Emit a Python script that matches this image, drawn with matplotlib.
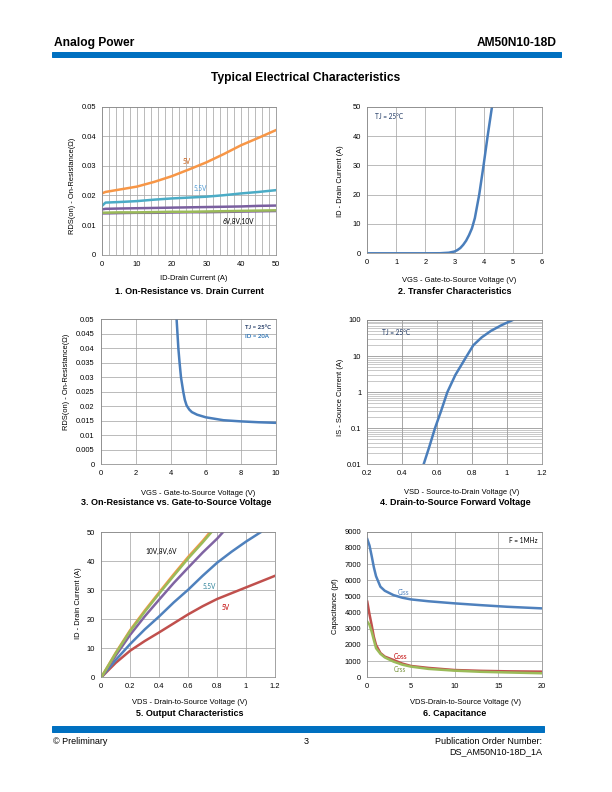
import numpy as np
import matplotlib
matplotlib.use('Agg')
import matplotlib.pyplot as plt
from matplotlib.ticker import MultipleLocator, NullFormatter, LogLocator

plt.rcParams['font.family'] = ['Liberation Sans', 'DejaVu Sans']

# 1. On-Resistance vs. Drain Current
id_current = [0, 1, 5, 10, 15, 20, 25, 30, 35, 40, 45, 50]
rds_5v = [0.0207, 0.0212, 0.022, 0.023, 0.0246, 0.0265, 0.0288, 0.0312, 0.034, 0.037, 0.0395, 0.0421]
rds_5v5 = [0.0165, 0.0176, 0.0178, 0.0181, 0.0186, 0.019, 0.0193, 0.0196, 0.0201, 0.0207, 0.0212, 0.0218]
rds_6v = [0.0153, 0.0155, 0.0156, 0.0157, 0.0158, 0.0159, 0.016, 0.0161, 0.0162, 0.0163, 0.0165, 0.0166]
rds_8v = [0.0142, 0.0142, 0.0143, 0.0143, 0.0144, 0.0145, 0.0145, 0.0146, 0.0147, 0.0148, 0.0149, 0.015]
rds_10v = [0.0138, 0.0138, 0.0139, 0.014, 0.014, 0.0141, 0.0142, 0.0142, 0.0143, 0.0144, 0.0145, 0.0146]

# 2. Transfer Characteristics
vgs_tr = [0, 1, 2, 2.5, 2.8, 3.0, 3.1, 3.2, 3.3, 3.4, 3.5, 3.6, 3.7, 3.85, 4.0, 4.14, 4.29]
id_tr = [0, 0, 0, 0.02, 0.2, 0.6, 1.1, 1.8, 2.9, 4.3, 6.2, 8.5, 12, 20, 30, 40, 50]

# 3. On-Resistance vs. Gate-to-Source Voltage
vgs_rds = [4.33, 4.43, 4.5, 4.58, 4.71, 4.8, 4.9, 5.05, 5.2, 5.5, 6.0, 7.0, 8.0, 9.0, 10.0]
rds_vgs = [0.05, 0.04, 0.035, 0.03, 0.025, 0.0222, 0.0203, 0.0189, 0.018, 0.0171, 0.0162, 0.0152, 0.0148, 0.0145, 0.0143]

# 4. Drain-to-Source Forward Voltage
vsd = [0.523, 0.555, 0.588, 0.623, 0.659, 0.705, 0.77, 0.808, 0.856, 0.909, 0.97, 1.034]
i_s = [0.01, 0.03, 0.1, 0.3, 1, 3, 10, 20, 33, 50, 72, 100]

# 5. Output Characteristics
vds_10v = [0, 0.1, 0.2, 0.3, 0.4, 0.5, 0.6, 0.7, 0.75]
id_10v = [0, 8.5, 16.3, 23, 29.3, 35.5, 41.5, 47, 50]
vds_8v = [0, 0.1, 0.2, 0.3, 0.4, 0.5, 0.6, 0.7, 0.76]
id_8v = [0, 8.3, 16, 22.6, 28.9, 35, 41, 46.5, 50]
vds_6v = [0, 0.1, 0.2, 0.3, 0.4, 0.5, 0.6, 0.7, 0.8, 0.84]
id_6v = [0, 7.5, 14.7, 21, 26.8, 32.5, 37.8, 43, 47.8, 50]
vds_5v5 = [0, 0.1, 0.2, 0.3, 0.4, 0.5, 0.6, 0.7, 0.8, 0.9, 1.0, 1.1]
id_5v5 = [0, 6, 11.5, 16.5, 21, 25.8, 30.2, 35, 39.5, 43.3, 46.8, 50]
vds_5v = [0, 0.1, 0.2, 0.3, 0.4, 0.5, 0.6, 0.7, 0.8, 0.9, 1.0, 1.1, 1.2]
id_5v = [0, 5, 9.2, 12.5, 15.5, 18.6, 21.7, 24.5, 27, 29, 31, 33, 35]

# 6. Capacitance
vds_cap = [0, 0.25, 0.5, 0.75, 1, 1.5, 2, 3, 4, 5, 7, 10, 13, 16, 20]
ciss = [8540, 8150, 7500, 6800, 6250, 5600, 5350, 5080, 4920, 4815, 4700, 4570, 4460, 4360, 4260]
coss = [4670, 3900, 3230, 2500, 2000, 1500, 1280, 1070, 850, 700, 580, 450, 400, 370, 350]
crss = [3440, 3250, 2820, 2300, 1800, 1450, 1230, 970, 780, 660, 520, 410, 340, 300, 250]

W, H = 612, 792
BLUE = '#4A7EBB'
GRID = '#A6A6A6'
NAVY = '#1F3864'

fig = plt.figure(figsize=(W / 72, H / 72), dpi=72)


def fx(x):
    return x / W


def fy(y):
    return 1 - y / H


def make_axes(l, t, r, b):
    ax = fig.add_axes([fx(l), fy(b), (r - l) / W, (b - t) / H])
    for s in ax.spines.values():
        s.set_color('#868686')
        s.set_linewidth(0.75)
    ax.tick_params(which='both', length=0, labelsize=7.5, pad=6, colors='black')
    ax.set_axisbelow(True)
    return ax


def ptext(x, y, s, **kw):
    fig.text(fx(x), fy(y), s, **kw)


def note(ax, x, y, s, color='black', size=6.5, ha='left', weight='normal'):
    ax.text(x, y, s, color=color, fontsize=size, ha=ha, va='center',
            family=['Lato', 'DejaVu Sans'], weight=weight)


# header / footer
ptext(54, 43, 'Analog Power', fontsize=12, weight='bold', va='center')
ptext(557, 43, 'AM50N10-18D', fontsize=12, weight='bold', va='center', ha='right')
fig.patches.append(plt.Rectangle((fx(52), fy(56.5)), (561 - 52) / W, 4.5 / H,
                                 transform=fig.transFigure, color='#0070C0'))
ptext(306, 78, 'Typical Electrical Characteristics', fontsize=12, weight='bold',
      va='center', ha='center')
fig.patches.append(plt.Rectangle((fx(52), fy(731.5)), (544 - 52) / W, 5.5 / H,
                                 transform=fig.transFigure, color='#0070C0'))
ptext(53, 741, '© Preliminary', fontsize=9, va='center')
ptext(306, 741, '3', fontsize=9, va='center', ha='center')
ptext(542, 741, 'Publication Order Number:', fontsize=9, va='center', ha='right')
ptext(542, 752, 'DS_AM50N10-18D_1A', fontsize=9, va='center', ha='right')

# ---- chart 1
ax1 = make_axes(102, 106.7, 276, 254.7)
ax1.plot(id_current, rds_10v, color='#8064A2', lw=1.6)
ax1.plot(id_current, rds_8v, color='#9BBB59', lw=2.5)
ax1.plot(id_current, rds_6v, color='#7A5FA0', lw=2.5)
ax1.plot(id_current, rds_5v5, color='#4BACC6', lw=2.5)
ax1.plot(id_current, rds_5v, color='#F79646', lw=2.5)
ax1.set_xlim(0, 50)
ax1.set_ylim(0, 0.05)
ax1.set_xticks(range(0, 51, 10))
ax1.xaxis.set_minor_locator(MultipleLocator(2))
ax1.set_yticks([0, 0.01, 0.02, 0.03, 0.04, 0.05])
ax1.set_yticklabels(['0', '0.01', '0.02', '0.03', '0.04', '0.05'])
ax1.grid(True, which='both', axis='x', color=GRID, lw=0.75)
ax1.grid(True, which='major', axis='y', color=GRID, lw=0.75)
note(ax1, 23.2, 0.0314, '5V', color='#C55A11')
note(ax1, 26.2, 0.0222, '5.5V', color='#4F9BD5')
note(ax1, 34.8, 0.0111, '6V,8V,10V')
ptext(194, 279, 'ID-Drain Current (A)', fontsize=7.5, ha='center', va='center')
ptext(189, 291, '1. On-Resistance vs. Drain Current', fontsize=9, weight='bold',
      ha='center', va='center')
ptext(72.7, 186, 'RDS(on) - On-Resistance(Ω)', fontsize=7.5, rotation=90,
      ha='center', va='center')

# ---- chart 2
ax2 = make_axes(367.3, 106.7, 541.7, 253.3)
ax2.plot(vgs_tr, id_tr, color=BLUE, lw=2.5)
ax2.set_xlim(0, 6)
ax2.set_ylim(0, 50)
ax2.set_xticks(range(0, 7))
ax2.set_yticks(range(0, 51, 10))
ax2.grid(True, color=GRID, lw=0.75)
note(ax2, 0.26, 46.8, 'TJ = 25°C', color=NAVY)
ptext(459, 280, 'VGS - Gate-to-Source Voltage (V)', fontsize=7.5, ha='center', va='center')
ptext(455, 291, '2. Transfer Characteristics', fontsize=9, weight='bold',
      ha='center', va='center')
ptext(340.7, 181, 'ID - Drain Current (A)', fontsize=7.5, rotation=90,
      ha='center', va='center')

# ---- chart 3
ax3 = make_axes(100.7, 319.3, 276, 464.3)
ax3.plot(vgs_rds, rds_vgs, color=BLUE, lw=2.5)
ax3.set_xlim(0, 10)
ax3.set_ylim(0, 0.05)
ax3.set_xticks(range(0, 11, 2))
yt3 = [0, 0.005, 0.01, 0.015, 0.02, 0.025, 0.03, 0.035, 0.04, 0.045, 0.05]
ax3.set_yticks(yt3)
ax3.set_yticklabels(['0', '0.005', '0.01', '0.015', '0.02', '0.025', '0.03',
                     '0.035', '0.04', '0.045', '0.05'])
ax3.grid(True, color=GRID, lw=0.75)
note(ax3, 8.23, 0.0473, 'TJ = 25°C', color=NAVY, weight='bold', size=6)
note(ax3, 8.25, 0.0439, 'ID = 20A', color='#2E75B6', weight='bold', size=6)
ptext(198, 493, 'VGS - Gate-to-Source Voltage (V)', fontsize=7.5, ha='center', va='center')
ptext(176, 503, '3. On-Resistance vs. Gate-to-Source Voltage', fontsize=9,
      weight='bold', ha='center', va='center')
ptext(66.7, 382, 'RDS(on) - On-Resistance(Ω)', fontsize=7.5, rotation=90,
      ha='center', va='center')

# ---- chart 4
ax4 = make_axes(367.3, 320, 541.7, 464.3)
ax4.plot(vsd, i_s, color=BLUE, lw=2.5)
ax4.set_yscale('log')
ax4.set_xlim(0.2, 1.2)
ax4.set_ylim(0.01, 100)
ax4.set_xticks([0.2, 0.4, 0.6, 0.8, 1.0, 1.2])
ax4.set_xticklabels(['0.2', '0.4', '0.6', '0.8', '1', '1.2'])
ax4.set_yticks([0.01, 0.1, 1, 10, 100])
ax4.set_yticklabels(['0.01', '0.1', '1', '10', '100'])
ax4.yaxis.set_minor_locator(LogLocator(base=10, subs=np.arange(2, 10)))
ax4.yaxis.set_minor_formatter(NullFormatter())
ax4.grid(True, which='major', color='#8C8C8C', lw=0.75)
ax4.grid(True, which='minor', axis='y', color=GRID, lw=0.6)
note(ax4, 0.283, 46, 'TJ = 25°C', color=NAVY)
ptext(462, 492, 'VSD - Source-to-Drain Voltage (V)', fontsize=7.5, ha='center', va='center')
ptext(455, 503, '4. Drain-to-Source Forward Voltage', fontsize=9, weight='bold',
      ha='center', va='center')
ptext(340.7, 397, 'IS - Source Current (A)', fontsize=7.5, rotation=90,
      ha='center', va='center')

# ---- chart 5
ax5 = make_axes(101.3, 532.3, 275, 677.3)
ax5.plot(vds_5v, id_5v, color='#C0504D', lw=2.5)
ax5.plot(vds_5v5, id_5v5, color='#4F81BD', lw=2.5)
ax5.plot(vds_6v, id_6v, color='#8064A2', lw=2.5)
ax5.plot(vds_10v, id_10v, color='#F79646', lw=2.5)
ax5.plot(vds_8v, id_8v, color='#9BBB59', lw=2.5)
ax5.set_xlim(0, 1.2)
ax5.set_ylim(0, 50)
ax5.set_xticks([0, 0.2, 0.4, 0.6, 0.8, 1.0, 1.2])
ax5.set_xticklabels(['0', '0.2', '0.4', '0.6', '0.8', '1', '1.2'])
ax5.set_yticks(range(0, 51, 10))
ax5.grid(True, color=GRID, lw=0.75)
note(ax5, 0.302, 43.3, '10V,8V,6V')
note(ax5, 0.70, 31.2, '5.5V', color='#31849B')
note(ax5, 0.832, 23.9, '5V', color='#C00000')
ptext(190, 703, 'VDS - Drain-to-Source Voltage (V)', fontsize=7.5, ha='center', va='center')
ptext(190, 714, '5. Output Characteristics', fontsize=9, weight='bold',
      ha='center', va='center')
ptext(78, 603, 'ID - Drain Current (A)', fontsize=7.5, rotation=90,
      ha='center', va='center')

# ---- chart 6
ax6 = make_axes(367.3, 531.7, 542, 677.3)
ax6.plot(vds_cap, ciss, color='#4F81BD', lw=2.5)
ax6.plot(vds_cap, coss, color='#C0504D', lw=2.5)
ax6.plot(vds_cap, crss, color='#9BBB59', lw=2.5)
ax6.set_xlim(0, 20)
ax6.set_ylim(0, 9000)
ax6.set_xticks(range(0, 21, 5))
ax6.set_yticks(range(0, 9001, 1000))
ax6.grid(True, color=GRID, lw=0.75)
note(ax6, 19.54, 8444, 'F = 1MHz', ha='right')
note(ax6, 3.48, 5229, 'Ciss', color='#4F81BD')
note(ax6, 3.06, 1255, 'Coss', color='#C00000')
note(ax6, 3.06, 513, 'Crss', color='#77933C')
ptext(465, 703, 'VDS-Drain-to-Source Voltage (V)', fontsize=7.5, ha='center', va='center')
ptext(455, 714, '6. Capacitance', fontsize=9, weight='bold', ha='center', va='center')
ptext(335, 606, 'Capacitance (pf)', fontsize=7.5, rotation=90, ha='center', va='center')

fig.savefig('out.png', dpi=72)
